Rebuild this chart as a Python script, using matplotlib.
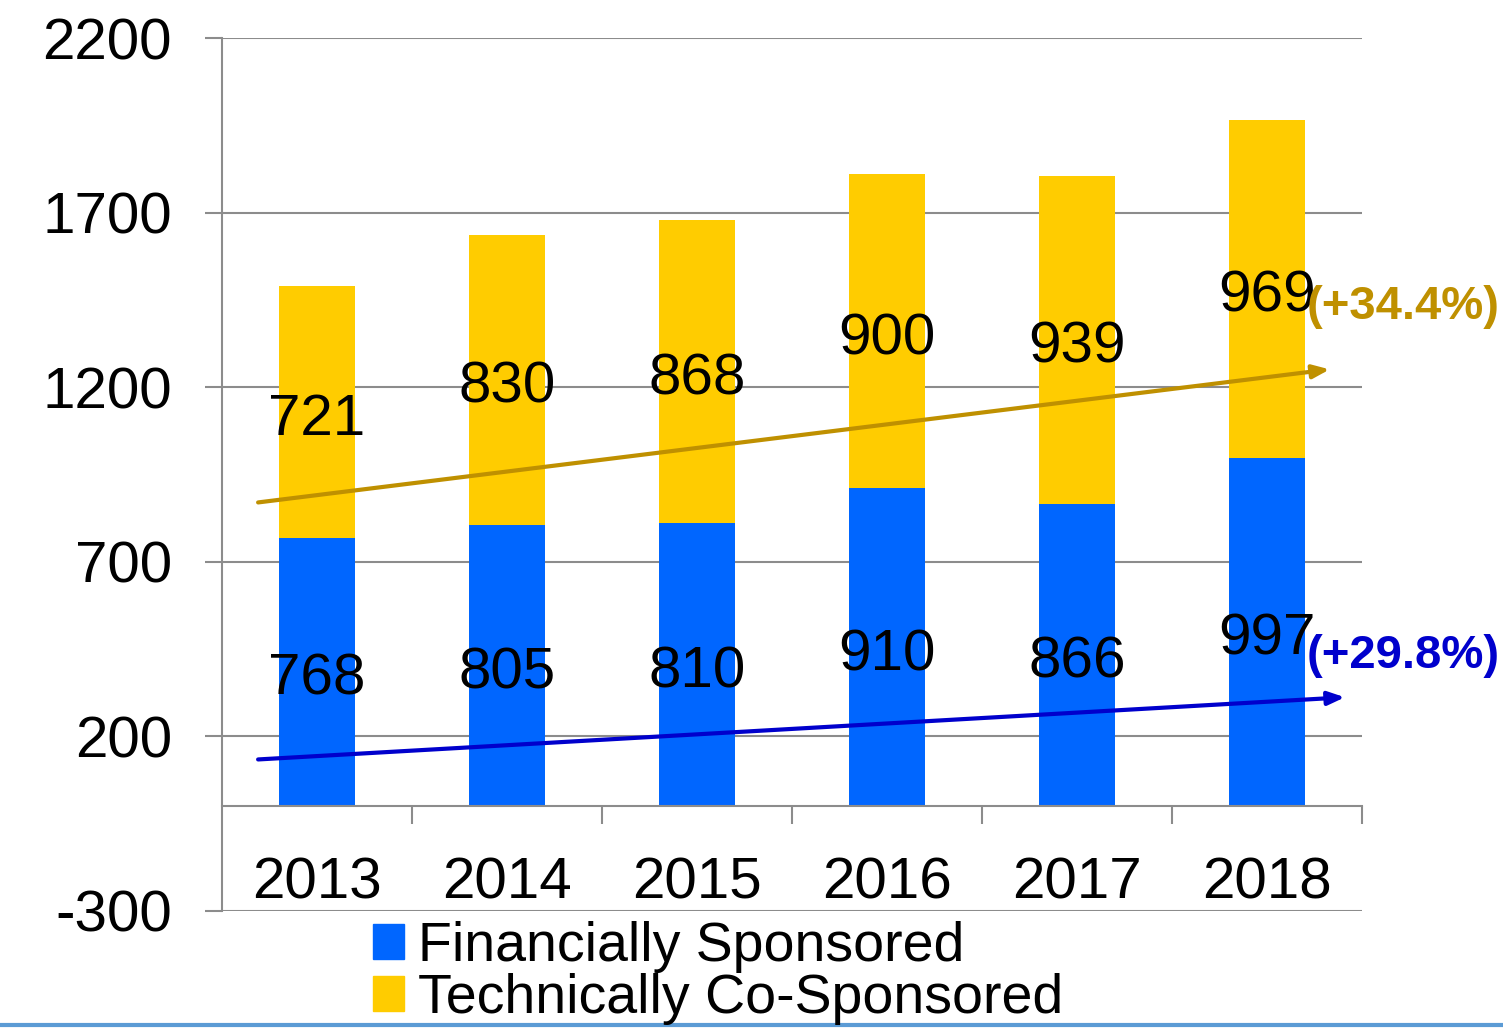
import matplotlib
matplotlib.use("Agg")
import matplotlib.pyplot as plt
from matplotlib.patches import Patch
from matplotlib.lines import Line2D

years = ["2013", "2014", "2015", "2016", "2017", "2018"]
financial = [768, 805, 810, 910, 866, 997]
technical = [721, 830, 868, 900, 939, 969]
yticks = [-300, 200, 700, 1200, 1700, 2200]

# trend arrows (start / end in data units)
tech_trend = ((-0.31, 870), (5.33, 1251))
fin_trend = ((-0.31, 134), (5.41, 312))

BLUE = "#0066FF"
YELLOW = "#FFCC00"
GOLD = "#BF9000"
DARKBLUE = "#0000CC"
GREY = "#8C8C8C"

plt.rcParams["font.family"] = ["Liberation Sans", "DejaVu Sans"]

fig = plt.figure(figsize=(15.03, 10.28), dpi=100)
W, H = 1503, 1028
ax = fig.add_axes([222 / W, 1 - 911 / H, (1362 - 222) / W, (911 - 38) / H])

x = list(range(len(years)))
ax.bar(x, financial, width=0.4, color=BLUE, zorder=2)
ax.bar(x, technical, width=0.4, bottom=financial, color=YELLOW, zorder=2)

for i in x:
    ax.text(i, financial[i] / 2 - 22, str(financial[i]), ha="center", va="center",
            fontsize=42, zorder=4)
    ax.text(i, financial[i] + technical[i] / 2 - 22, str(technical[i]), ha="center",
            va="center", fontsize=42, zorder=4)
    ax.text(i, -220, years[i], ha="center", va="center", fontsize=42)

ax.set_xlim(-0.5, 5.5)
ax.set_ylim(-300, 2200)
ax.set_yticks(yticks)
ax.set_yticklabels([str(v) for v in yticks], fontsize=42)
ax.yaxis.grid(True, color=GREY, linewidth=1.5, zorder=0)
ax.set_axisbelow(True)
ax.tick_params(axis="y", direction="out", length=12, width=1.5, color=GREY, pad=24)

ax.set_xticks([])
ax.set_xticks([i + 0.5 for i in x], minor=True)
ax.tick_params(axis="x", which="minor", direction="out", length=13, width=1.5,
               color=GREY)
ax.spines["bottom"].set_position(("data", 0))
ax.spines["bottom"].set_color(GREY)
ax.spines["bottom"].set_linewidth(1.5)
ax.spines["bottom"].set_zorder(3)
ax.spines["left"].set_color(GREY)
ax.spines["left"].set_linewidth(1.5)
ax.spines["top"].set_visible(False)
ax.spines["right"].set_visible(False)

for (p0, p1), col in [(tech_trend, GOLD), (fin_trend, DARKBLUE)]:
    ax.annotate("", xy=p1, xytext=p0, zorder=5, annotation_clip=False,
                arrowprops=dict(arrowstyle="-|>,head_length=1.0,head_width=0.4",
                                color=col, lw=3, shrinkA=0, shrinkB=0))

ax.text(5.21, 1430, "(+34.4%)", color=GOLD, fontsize=34, fontweight="bold",
        ha="left", va="center", zorder=5, clip_on=False)
ax.text(5.21, 430, "(+29.8%)", color=DARKBLUE, fontsize=34, fontweight="bold",
        ha="left", va="center", zorder=5, clip_on=False)

handles = [Patch(color=BLUE), Patch(color=YELLOW)]
fig.legend(handles, ["Financially Sponsored", "Technically Co-Sponsored"],
           loc="upper left", bbox_to_anchor=(340 / W, 1 - 888 / H), frameon=False,
           fontsize=40, handlelength=0.55, handleheight=0.6, handletextpad=0.25,
           labelspacing=0.0, borderpad=0.1)

fig.add_artist(Line2D([0, 1], [1 - 1025 / H] * 2, color="#5B9BD5", lw=3))

fig.savefig("out.png", dpi=100)
